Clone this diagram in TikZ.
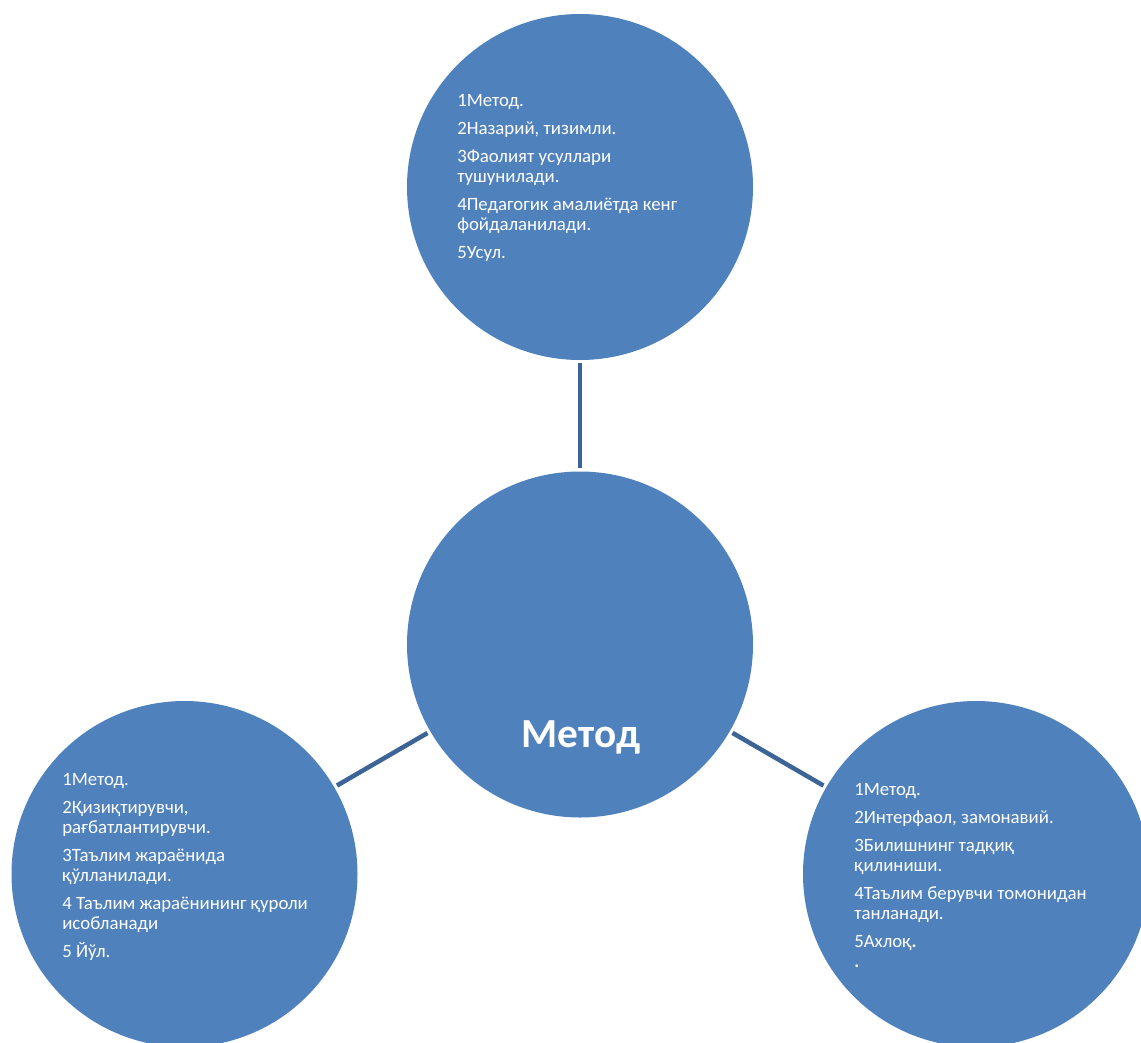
\documentclass[tikz,border=0pt]{standalone}
\usepackage{fontspec}
\setmainfont{Carlito}
\usetikzlibrary{positioning}
\definecolor{circblue}{HTML}{4F81BD}
\definecolor{linkblue}{HTML}{3C6496}
\tikzset{
  bubble/.style={circle, fill=circblue, minimum size=259.5pt, inner sep=0pt, outer sep=2.5pt},
  listtext/.style={text=white, align=left, inner sep=0pt, anchor=base west,
    font=\fontsize{14.1}{15}\selectfont},
  link/.style={draw=linkblue, line width=3.4pt}
}
\begin{document}
\begin{tikzpicture}[x=0.75pt,y=-0.75pt]
\useasboundingbox (0,0) rectangle (1141,1042);
\clip (0,0) rectangle (1141,1042);

\node[bubble] (main) at (580,644.5) {};
\node[bubble] (top) at (580,187) {};
\node[bubble] (left) at (184.5,874) {};
\node[bubble] (right) at (976,874) {};

\draw[link] (main) -- (top);
\draw[link] (main) -- (left);
\draw[link] (main) -- (right);

\node[text=white, inner sep=0pt, anchor=base, font=\fontsize{31}{33}\selectfont\bfseries] (title) at (581,747) {Метод};

% lists: anchored at the baseline of their last line
\node[listtext] (toplist) at (457,258) {1Метод.\\[6pt]
  2Назарий, тизимли.\\[6pt]
  3Фаолият усуллари\\ тушунилади.\\[6pt]
  4Педагогик амалиётда кенг\\ фойдаланилади.\\[6pt]
  5Усул.};

\node[listtext] (leftlist) at (62,957) {1Метод.\\[6pt]
  2Қизиқтирувчи,\\ рағбатлантирувчи.\\[6pt]
  3Таълим жараёнида\\ қўлланилади.\\[6pt]
  4 Таълим жараёнининг қуроли\\ исобланади\\[6pt]
  5 Йўл.};

\node[listtext] (rightlist) at (854,967) {1Метод.\\[6pt]
  2Интерфаол, замонавий.\\[6pt]
  3Билишнинг тадқиқ\\ қилиниши.\\[6pt]
  4Таълим берувчи томонидан\\ танланади.\\[6pt]
  5Ахлоқ{\bfseries.}\\
  {\bfseries.}};
\end{tikzpicture}
\end{document}
